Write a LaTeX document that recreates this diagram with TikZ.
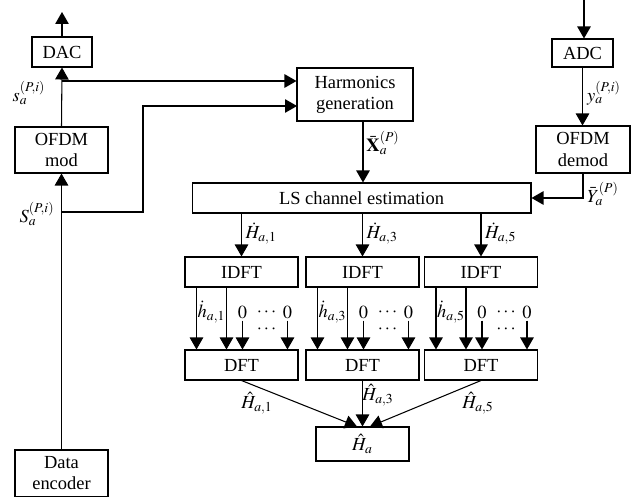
\documentclass[tikz,border=0pt]{standalone}
\usepackage{mathptmx}
\usepackage{fontspec}
\setmainfont{Liberation Serif}
\usepackage{tikz}
\usetikzlibrary{arrows.meta}
\usetikzlibrary{calc}
\usetikzlibrary{positioning}

\tikzset{blk/.style={draw, align=center, inner sep=1pt}}

\begin{document}
\begin{tikzpicture}[x=0.02cm, y=-0.02cm, line width=0.6pt, font=\fontsize{10.5}{12}\selectfont,
    >={Triangle[length=0.24cm,width=0.27cm]}] % Harmonics based channel estimation

      \useasboundingbox (0,0) rectangle (634,496);

      % transmitter side
      \node [blk, minimum width=1.2cm, minimum height=0.6cm] (dac) at (62,52) {DAC};
      \node [blk, minimum width=1.86cm, minimum height=0.92cm] (omod) at (61.5,150) {OFDM\\mod};
      \node [blk, minimum width=1.86cm, minimum height=0.94cm] (enc) at (61.5,473.5) {Data\\encoder};
      \coordinate (tx) at (62,12);
      \coordinate (sp) at (62,81);
      \coordinate (Sp) at (62,212);
      \coordinate (hin) at (297,106);
      \draw [->] (dac.north) -- (tx);
      \draw [->] (omod.north) -- (dac.south);
      \draw [->] (enc.north) -- (omod.south);
      \node [blk, minimum width=2.32cm, minimum height=1.06cm] (harm) at (355,94.5) {Harmonics\\generation};
      \draw [->] (sp) -- (sp -| harm.west);
      \draw [->] (Sp) -- (143,212) -- (143,106) -- (hin);
      \node (slbl) at (29,93) {$s_a^{(P,i)}$};
      \node (Slbl) at (37,214) {$S_a^{(P,i)}$};

      % receiver side
      \node [blk, minimum width=1.22cm, minimum height=0.56cm] (adc) at (582.5,53) {ADC};
      \node [blk, minimum width=1.88cm, minimum height=0.94cm] (odem) at (583,149.5) {OFDM\\demod};
      \node [blk, minimum width=6.78cm, minimum height=0.6cm] (ls) at (361.5,198) {LS channel estimation};
      \coordinate (rx) at (584,0);
      \draw [->] (rx) -- (rx |- adc.north);
      \draw [->] (adc.south) -- (adc.south |- odem.north);
      \draw [->] (odem.south) |- (ls.east);
      \node (ylbl) at (604,93) {$y_a^{(P,i)}$};
      \node (Ylbl) at (603,194) {$\bar{Y}_a^{(P)}$};
      \coordinate (xh) at (363,121);
      \draw [->] (xh) -- (xh |- ls.north);
      \node (Xlbl) at (383,143) {$\bar{\mathbf{X}}_a^{(P)}$};

      % per harmonic branches
      \foreach \i/\x in {1/241.5, 3/362.5, 5/481} {
        \node [blk, minimum width=2.26cm, minimum height=0.6cm] (idft\i) at (\x,272) {IDFT};
        \node [blk, minimum width=2.26cm, minimum height=0.6cm] (dft\i) at (\x,365) {DFT};
        \draw [->] (ls.south -| idft\i.north) -- (idft\i.north);
        \node [right, inner sep=2pt] (dH\i) at ($(ls.south -| idft\i.north)+(0,20)$) {$\dot{H}_{a,\i}$};
        \draw [->] ([xshift=0.24cm]idft\i.south west) -- ([xshift=0.24cm]dft\i.north west);
        \draw [->] ([xshift=0.84cm]idft\i.south west) -- ([xshift=0.84cm]dft\i.north west);
        \node (dh\i) at ([xshift=0.54cm,yshift=-0.8cm]idft\i.west) {$\dot{h}_{a,\i}$};
        \node [inner sep=1pt] (za\i) at ([xshift=1.16cm,yshift=-0.8cm]idft\i.west) {$0$};
        \node [inner sep=1pt] (zb\i) at ([xshift=2.06cm,yshift=-0.8cm]idft\i.west) {$0$};
        \node (dd\i) at ([xshift=1.64cm,yshift=-0.8cm]idft\i.west) {$\cdots$};
        \node (de\i) at ([xshift=1.64cm,yshift=-1.14cm]idft\i.west) {$\cdots$};
        \draw [->] (za\i) -- (za\i |- dft\i.north);
        \draw [->] (zb\i) -- (zb\i |- dft\i.north);
      }

      % combining
      \node [blk, minimum width=1.86cm, minimum height=0.68cm] (hat) at (362.5,444) {$\hat{H}_a$};
      \draw [->] (dft1.south) -- ([xshift=-0.11cm]hat.north);
      \draw [->] (dft3.south) -- (hat.north);
      \draw [->] (dft5.south) -- ([xshift=0.15cm]hat.north);
      \node (hH1) at (257,403) {$\hat{H}_{a,1}$};
      \node (hH3) at (378,395) {$\hat{H}_{a,3}$};
      \node (hH5) at (478,403) {$\hat{H}_{a,5}$};

    \end{tikzpicture}
\end{document}
